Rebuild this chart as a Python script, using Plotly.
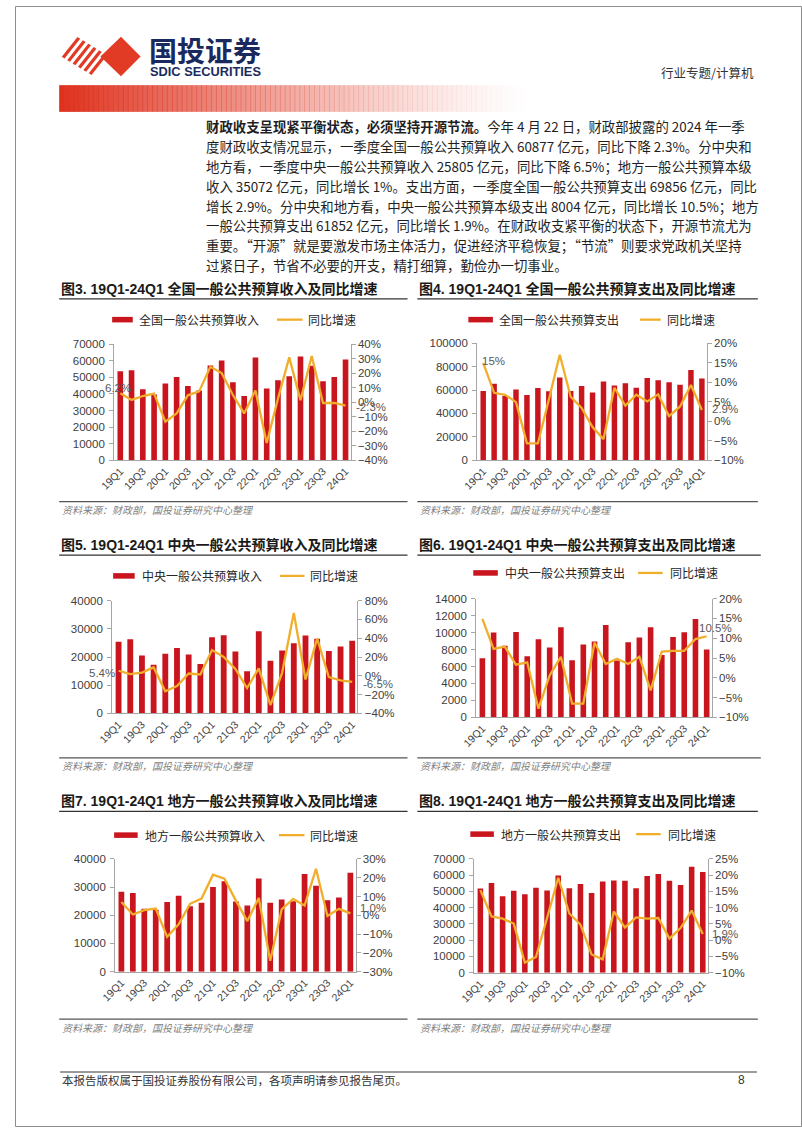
import plotly.graph_objects as go

W, H = 802, 1133

# ---------------- data ----------------
quarters = ["19Q1", "19Q2", "19Q3", "19Q4", "20Q1", "20Q2", "20Q3", "20Q4",
            "21Q1", "21Q2", "21Q3", "21Q4", "22Q1", "22Q2", "22Q3", "22Q4",
            "23Q1", "23Q2", "23Q3", "23Q4", "24Q1"]
tick_labels = quarters[::2]

# Fig 3: national general public budget revenue (亿元) and YoY (%)
nat_rev = [53700, 54300, 42900, 39700, 46300, 50300, 44900, 42100, 57300, 60200, 47100,
           38800, 62000, 43300, 48300, 50700, 62600, 57100, 47700, 50300, 60877]
nat_rev_yoy = [6.2, 1.6, 4.3, 6.0, -13.4, -7.7, 4.8, 7.5, 24.5, 20.2, 5.0,
               -7.7, 8.2, -28.2, 2.5, 31.0, 1.4, 32.0, -0.5, -0.5, -2.3]

# Fig 4: national general public budget expenditure
nat_exp = [59200, 65400, 55000, 60600, 55800, 61700, 58900, 70700, 59200, 63400, 58000,
           67300, 63900, 65900, 62000, 70400, 68500, 66800, 64500, 77200, 69856]
nat_exp_yoy = [15.0, 7.3, 6.8, 4.9, -5.7, -5.7, 5.5, 17.1, 6.3, 3.4, -1.5,
               -4.6, 8.6, 4.0, 6.8, 5.1, 6.9, 1.3, 3.8, 9.3, 2.9]

# Fig 5: central revenue
cen_rev = [25400, 26300, 20500, 17300, 21200, 23200, 20900, 17500, 27000, 27700, 22000,
           15000, 29100, 18700, 22300, 24900, 27600, 26500, 22100, 23700, 25805]
cen_rev_yoy = [5.4, 1.8, 3.5, 9.0, -16.5, -10.9, 2.5, 1.4, 27.4, 20.0, 7.4,
               -13.0, 8.0, -31.2, 3.2, 67.0, -3.9, 39.6, -1.4, -4.9, -6.5]

# Fig 6: central expenditure
cen_exp = [6970, 10000, 8440, 10080, 7200, 9220, 8250, 10620, 6730, 8600, 8950,
           10900, 6700, 8870, 9420, 10620, 7350, 9490, 10040, 11600, 8004]
cen_exp_yoy = [14.9, 7.3, 7.9, 3.3, 3.9, -7.8, 0.6, 5.3, -6.5, -6.5, 8.9,
               3.5, 4.8, 3.5, 5.3, -3.2, 6.6, 6.8, 6.8, 9.8, 10.5]

# Fig 7: local revenue
loc_rev = [28300, 27900, 22300, 22000, 24700, 26900, 23200, 24400, 30000, 32100, 24900,
           23500, 33000, 24400, 25600, 25000, 34600, 30500, 25300, 26300, 35072]
loc_rev_yoy = [7.1, 0.4, 2.7, 3.6, -11.5, -4.8, 6.1, 8.9, 21.6, 19.5, 7.8,
               -3.1, 9.2, -24.2, 3.1, 8.7, 5.2, 24.7, -0.4, 3.4, 1.0]

# Fig 8: local expenditure
loc_exp = [51800, 55100, 47000, 50400, 48200, 52200, 50600, 59700, 52000, 54500, 49000,
           56100, 56700, 56500, 52000, 59500, 60700, 56500, 54000, 65200, 61852]
loc_exp_yoy = [15.4, 7.3, 6.6, 5.1, -6.9, -5.2, 6.8, 19.2, 8.2, 4.8, -4.4,
               -5.9, 8.8, 3.9, 7.0, 6.6, 6.8, 0.5, 3.7, 9.1, 1.9]

titles = ["图3. 19Q1-24Q1 全国一般公共预算收入及同比增速",
          "图4. 19Q1-24Q1 全国一般公共预算支出及同比增速",
          "图5. 19Q1-24Q1 中央一般公共预算收入及同比增速",
          "图6. 19Q1-24Q1 中央一般公共预算支出及同比增速",
          "图7. 19Q1-24Q1 地方一般公共预算收入及同比增速",
          "图8. 19Q1-24Q1 地方一般公共预算支出及同比增速"]
bar_names = ["全国一般公共预算收入", "全国一般公共预算支出", "中央一般公共预算收入",
             "中央一般公共预算支出", "地方一般公共预算收入", "地方一般公共预算支出"]
line_name = "同比增速"
source_text = "资料来源：财政部，国投证券研究中心整理"

body_lines = [
    "<b>财政收支呈现紧平衡状态，必须坚持开源节流。</b>今年 4 月 22 日，财政部披露的 2024 年一季",
    "度财政收支情况显示，一季度全国一般公共预算收入 60877 亿元，同比下降 2.3%。分中央和",
    "地方看，一季度中央一般公共预算收入 25805 亿元，同比下降 6.5%；地方一般公共预算本级",
    "收入 35072 亿元，同比增长 1%。支出方面，一季度全国一般公共预算支出 69856 亿元，同比",
    "增长 2.9%。分中央和地方看，中央一般公共预算本级支出 8004 亿元，同比增长 10.5%；地方",
    "一般公共预算支出 61852 亿元，同比增长 1.9%。在财政收支紧平衡的状态下，开源节流尤为",
    "重要。“开源”就是要激发市场主体活力，促进经济平稳恢复；“节流”则要求党政机关坚持",
    "过紧日子，节省不必要的开支，精打细算，勤俭办一切事业。",
]

# ---------------- styling / layout ----------------
BAR = "#C9151E"
LINE = "#F0AE2A"
AXIS = "#A6A6A6"
TXT = "#262626"
CJK = "Noto Sans CJK SC"
LAT = "Liberation Sans, Arial, Noto Sans CJK SC"

def px(x):
    return x / W

def py(y):
    return 1 - y / H

charts = [
    dict(bars=nat_rev, yoy=nat_rev_yoy, ymax=70000, dy=10000, r=(-40, 40), rd=10,
         box=(101, 342, 342, 459), col=45, colw=355, ty=286, ly=317,
         lb=(99, 120), lt=124, ll=(267, 293), llt=297, sy=501,
         labels=[(0, "{:.1f}%", "center", -2, 5), (20, "{:.1f}%", "left", 8, -1)]),
    dict(bars=nat_exp, yoy=nat_exp_yoy, ymax=100000, dy=20000, r=(-10, 20), rd=5,
         box=(471, 705, 341, 459), col=410, colw=347, ty=286, ly=317,
         lb=(462, 487), lt=491, ll=(637, 658), llt=662, sy=501,
         labels=[(0, "{:.0f}%", "left", -3, 2), (20, "{:.1f}%", "left", 8, 1)]),
    dict(bars=cen_rev, yoy=cen_rev_yoy, ymax=40000, dy=10000, r=(-40, 80), rd=20,
         box=(99, 349, 601, 715), col=45, colw=355, ty=545, ly=576,
         lb=(100, 122), lt=127, ll=(270, 295), llt=299, sy=760,
         labels=[(0, "{:.1f}%", "right", -2, -2), (20, "{:.1f}%", "left", 9, -2)]),
    dict(bars=cen_exp, yoy=cen_exp_yoy, ymax=14000, dy=2000, r=(-10, 20), rd=5,
         box=(470, 710, 599, 719), col=410, colw=350, ty=545, ly=573,
         lb=(467, 492), lt=497, ll=(635, 660), llt=665, sy=760,
         labels=[(20, "{:.1f}%", "center", 9, 8)]),
    dict(bars=loc_rev, yoy=loc_rev_yoy, ymax=40000, dy=10000, r=(-30, 30), rd=10,
         box=(102, 347, 862, 976), col=45, colw=355, ty=804, ly=838,
         lb=(101, 125), lt=130, ll=(269, 295), llt=299, sy=1024,
         labels=[(20, "{:.1f}%", "left", 8, 5)]),
    dict(bars=loc_exp, yoy=loc_exp_yoy, ymax=70000, dy=10000, r=(-10, 25), rd=5,
         box=(468, 706, 862, 977), col=410, colw=347, ty=804, ly=837,
         lb=(464, 488), lt=493, ll=(633, 658), llt=663, sy=1024,
         labels=[(20, "{:.1f}%", "left", 7, 0)]),
]

fig = go.Figure()
layout = dict(width=W, height=H, margin=dict(l=0, r=0, t=0, b=0),
              paper_bgcolor="white", plot_bgcolor="rgba(0,0,0,0)",
              showlegend=False, bargap=0.5, font=dict(family=LAT, color=TXT))
shapes = []
annotations = []

def yname(k):
    return "y" if k == 1 else f"y{k}"

def ykey(k):
    return "yaxis" if k == 1 else f"yaxis{k}"

tickfont = dict(family=LAT, size=11.5, color="#404040")

for i, c in enumerate(charts):
    xn = "x" if i == 0 else f"x{i + 1}"
    xk = "xaxis" if i == 0 else f"xaxis{i + 1}"
    y1, y2 = 2 * i + 1, 2 * i + 2
    L, R, T, B = c["box"]
    fig.add_trace(go.Bar(x=quarters, y=c["bars"], xaxis=xn, yaxis=yname(y1),
                         marker=dict(color=BAR, line=dict(width=0)), name=bar_names[i]))
    fig.add_trace(go.Scatter(x=quarters, y=c["yoy"], xaxis=xn, yaxis=yname(y2), mode="lines",
                             line=dict(color=LINE, width=2.3), name=line_name))
    layout[xk] = dict(domain=[px(L), px(R)], anchor=yname(y1), type="category",
                      categoryorder="array", categoryarray=quarters, range=[-0.55, 20.45],
                      tickmode="array", tickvals=tick_labels, ticktext=tick_labels,
                      tickangle=-45, showline=True, linecolor=AXIS, linewidth=1,
                      ticks="", showgrid=False, zeroline=False,
                      tickfont=dict(family=LAT, size=10.5, color="#404040"))
    layout[ykey(y1)] = dict(domain=[py(B), py(T)], anchor=xn, range=[0, c["ymax"]],
                            dtick=c["dy"], tick0=0, showline=True, linecolor=AXIS,
                            ticks="outside", ticklen=4, tickcolor=AXIS, showgrid=False,
                            zeroline=False, tickfont=tickfont, tickformat="d", ticklabelstandoff=2)
    layout[ykey(y2)] = dict(overlaying=yname(y1), side="right", anchor=xn, range=list(c["r"]),
                            dtick=c["rd"], tick0=0, ticksuffix="%", showline=True, linecolor=AXIS,
                            ticks="outside", ticklen=4, tickcolor=AXIS, showgrid=False,
                            zeroline=False, tickfont=tickfont)
    for idx, fmt, xa, xs, ys in c["labels"]:
        annotations.append(dict(x=quarters[idx], y=c["yoy"][idx], xref=xn, yref=yname(y2),
                                text=fmt.format(c["yoy"][idx]), showarrow=False,
                                xanchor=xa, yanchor="middle", xshift=xs, yshift=ys,
                                font=dict(family=LAT, size=11.5, color="#595959")))
    col, colw = c["col"], c["colw"]
    annotations.append(dict(x=px(col), y=py(c["ty"]), xref="paper", yref="paper",
                            text=f"<b>{titles[i]}</b>", showarrow=False, xanchor="left",
                            yanchor="middle", font=dict(family=LAT, size=14, color="#1a1a1a")))
    shapes.append(dict(type="line", xref="paper", yref="paper", x0=px(col), x1=px(col + colw),
                       y0=py(c["ty"] + 10), y1=py(c["ty"] + 10), line=dict(color="#333333", width=1.4)))
    ly = c["ly"]
    shapes.append(dict(type="rect", xref="paper", yref="paper", x0=px(c["lb"][0]), x1=px(c["lb"][1]),
                       y0=py(ly - 2.8), y1=py(ly + 2.8), fillcolor=BAR, line=dict(width=0)))
    annotations.append(dict(x=px(c["lt"]), y=py(ly), xref="paper", yref="paper", text=bar_names[i],
                            showarrow=False, xanchor="left", yanchor="middle",
                            font=dict(family=CJK, size=12, color=TXT)))
    shapes.append(dict(type="line", xref="paper", yref="paper", x0=px(c["ll"][0]), x1=px(c["ll"][1]),
                       y0=py(ly), y1=py(ly), line=dict(color=LINE, width=2.3)))
    annotations.append(dict(x=px(c["llt"]), y=py(ly), xref="paper", yref="paper", text=line_name,
                            showarrow=False, xanchor="left", yanchor="middle",
                            font=dict(family=CJK, size=12, color=TXT)))
    shapes.append(dict(type="line", xref="paper", yref="paper", x0=px(col), x1=px(col + colw),
                       y0=py(c["sy"]), y1=py(c["sy"]), line=dict(color="#555555", width=1.3)))
    annotations.append(dict(x=px(col + 1), y=py(c["sy"] + 8), xref="paper", yref="paper",
                            text=f"<i>{source_text}</i>", showarrow=False, xanchor="left",
                            yanchor="middle", font=dict(family=CJK, size=10, color="#7f7f7f")))

# ---------------- header ----------------
Lp, Tp, Bp = (47, 51), (63, 31), (80, 71)
n_str = 6
for k in range(n_str):
    t0 = k / n_str + 0.02
    t1 = t0 + 0.085
    p0 = (Lp[0] + t0 * (Bp[0] - Lp[0]), Lp[1] + t0 * (Bp[1] - Lp[1]))
    p1 = (Lp[0] + t1 * (Bp[0] - Lp[0]), Lp[1] + t1 * (Bp[1] - Lp[1]))
    dx, dy = Tp[0] - Lp[0], Tp[1] - Lp[1]
    q0 = (p0[0] + dx, p0[1] + dy)
    q1 = (p1[0] + dx, p1[1] + dy)
    path = "M {} {} L {} {} L {} {} L {} {} Z".format(
        px(p0[0]), py(p0[1]), px(p1[0]), py(p1[1]), px(q1[0]), py(q1[1]), px(q0[0]), py(q0[1]))
    shapes.append(dict(type="path", xref="paper", yref="paper", path=path,
                       fillcolor="#E23B25", line=dict(width=0)))
dpath = "M {} {} L {} {} L {} {} L {} {} Z".format(px(87), py(51), px(108), py(31),
                                                   px(128), py(51), px(108), py(71))
shapes.append(dict(type="path", xref="paper", yref="paper", path=dpath,
                   fillcolor="#E23B25", line=dict(width=0)))
annotations.append(dict(x=px(135), y=py(44.5), xref="paper", yref="paper", text="<b>国投证券</b>",
                        showarrow=False, xanchor="left", yanchor="middle",
                        font=dict(family=CJK, size=28, color="#1B2A5E")))
annotations.append(dict(x=px(136), y=py(66.5), xref="paper", yref="paper", text="<b>SDIC SECURITIES</b>",
                        showarrow=False, xanchor="left", yanchor="middle",
                        font=dict(family="Liberation Sans", size=12.8, color="#1B2A5E")))
annotations.append(dict(x=px(755), y=py(67), xref="paper", yref="paper", text="行业专题/计算机",
                        showarrow=False, xanchor="right", yanchor="middle",
                        font=dict(family=CJK, size=12.5, color="#333333")))
gx0, gx1, steps = 45, 520, 95
for k in range(steps):
    a = 1 - k / steps
    x0 = gx0 + (gx1 - gx0) * k / steps
    x1 = gx0 + (gx1 - gx0) * (k + 1) / steps + 0.6
    shapes.append(dict(type="rect", xref="paper", yref="paper", x0=px(x0), x1=px(x1),
                       y0=py(107), y1=py(80), fillcolor=f"rgba(222,50,30,{a ** 1.3:.3f})",
                       line=dict(width=0), layer="below"))

for k, ln in enumerate(body_lines):
    annotations.append(dict(x=px(193), y=py(121.7 + 20.0 * k), xref="paper", yref="paper", text=ln,
                            showarrow=False, xanchor="left", yanchor="middle",
                            font=dict(family=CJK, size=13.4, color="#1f1f1f")))

# footer
shapes.append(dict(type="line", xref="paper", yref="paper", x0=px(46), x1=px(756),
                   y0=py(1077.5), y1=py(1077.5), line=dict(color="#9a9a9a", width=2)))
annotations.append(dict(x=px(46), y=py(1085.5), xref="paper", yref="paper",
                        text="本报告版权属于国投证券股份有限公司，各项声明请参见报告尾页。",
                        showarrow=False, xanchor="left", yanchor="middle",
                        font=dict(family=CJK, size=11.5, color="#333333")))
annotations.append(dict(x=px(740), y=py(1085.5), xref="paper", yref="paper", text="8",
                        showarrow=False, xanchor="center", yanchor="middle",
                        font=dict(family=LAT, size=12, color="#333333")))
shapes.append(dict(type="rect", xref="paper", yref="paper", x0=px(0.5), x1=px(801.5),
                   y0=py(1132.5), y1=py(0.5), line=dict(color="#8c8c8c", width=1)))

layout["shapes"] = shapes
layout["annotations"] = annotations
fig.update_layout(**layout)
fig.write_html("out.html", config={"displayModeBar": False},
               post_script="document.body.style.margin='0';document.body.style.overflow='hidden';")
